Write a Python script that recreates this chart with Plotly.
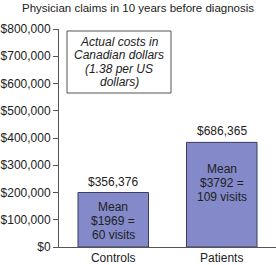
import plotly.graph_objects as go

categories = ["Controls", "Patients"]
bar_heights = [200000, 384000]
value_labels = ["$356,376", "$686,365"]
inside_labels = [["Mean", "$1969 =", "60 visits"], ["Mean", "$3792 =", "109 visits"]]
inside_centers = [95000, 235000]
box_lines = ["Actual costs in", "Canadian dollars", "(1.38 per US", "dollars)"]
y_ticks = [0, 100000, 200000, 300000, 400000, 500000, 600000, 700000, 800000]
y_tick_labels = ["$" + format(v, ",d") for v in y_ticks]
title_text = "Physician claims in 10 years before diagnosis"

FONT = "Arial, 'Liberation Sans', sans-serif"
TXT = "#222222"

fig = go.Figure()
fig.add_trace(go.Bar(
    x=categories, y=bar_heights, width=0.65,
    marker=dict(color="#8389c9", line=dict(color="#3b3c5e", width=1)),
    hoverinfo="skip",
))

ann = []
for i, c in enumerate(categories):
    ann.append(dict(x=c, y=bar_heights[i], xref="x", yref="y", text=value_labels[i],
                    showarrow=False, xanchor="center", yanchor="bottom", yshift=2,
                    font=dict(size=12, color=TXT, family=FONT)))
    n = len(inside_labels[i])
    for j, line in enumerate(inside_labels[i]):
        ann.append(dict(x=c, y=inside_centers[i], xref="x", yref="y", text=line,
                        showarrow=False, xanchor="center", yanchor="middle",
                        yshift=-(j - (n - 1) / 2) * 13.8,
                        font=dict(size=12, color=TXT, family=FONT)))

# text box
bx0, bx1 = (67 - 59) / 217, (171 - 59) / 217
by0, by1 = (247 - 93) / 218, (247 - 31) / 218
fig.add_shape(type="rect", xref="paper", yref="paper", x0=bx0, x1=bx1, y0=by0, y1=by1,
              line=dict(color="#555555", width=1), fillcolor="rgba(0,0,0,0)")
cy = (by0 + by1) / 2
nb = len(box_lines)
for j, line in enumerate(box_lines):
    ann.append(dict(x=(bx0 + bx1) / 2, y=cy, xref="paper", yref="paper",
                    text="<i>" + line + "</i>", showarrow=False,
                    xanchor="center", yanchor="middle",
                    yshift=-(j - (nb - 1) / 2) * 13.4,
                    font=dict(size=12, color=TXT, family=FONT)))

ann.append(dict(x=(138 - 59) / 217, y=(247 - 8) / 218, xref="paper", yref="paper",
                xanchor="center", yanchor="middle",
                text=title_text, showarrow=False,
                font=dict(size=11.5, color=TXT, family=FONT)))

fig.update_layout(
    width=276, height=265,
    margin=dict(l=59, r=0, t=29, b=18, pad=0),
    paper_bgcolor="white", plot_bgcolor="white",
    showlegend=False,
    annotations=ann,
    font=dict(family=FONT, size=12, color=TXT),
    xaxis=dict(range=[-0.5, 1.5], showline=True, linecolor="#555555", linewidth=1,
               ticks="", showgrid=False, zeroline=False,
               tickfont=dict(size=12, color=TXT, family=FONT)),
    yaxis=dict(range=[0, 800000], tickvals=y_ticks, ticktext=y_tick_labels,
               showline=True, linecolor="#555555", linewidth=1, ticks="outside",
               ticklen=5, tickcolor="#555555", showgrid=False, zeroline=False,
               automargin=False,
               tickfont=dict(size=12, color=TXT, family=FONT)),
)

fig.write_html("out.html")
